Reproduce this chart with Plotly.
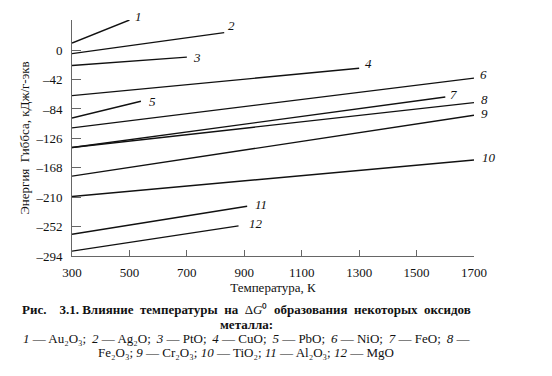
import plotly.graph_objects as go

# Data: start/end temperatures (K) and Gibbs energy (kJ/g-eq) for each oxide line
labels = ["1", "2", "3", "4", "5", "6", "7", "8", "9", "10", "11", "12"]
oxides = ["Au₂O₃", "Ag₂O", "PtO", "CuO", "PbO", "NiO", "FeO", "Fe₂O₃", "Cr₂O₃", "TiO₂", "Al₂O₃", "MgO"]
t_start = [300, 300, 300, 300, 300, 300, 300, 300, 300, 300, 300, 300]
t_end = [500, 830, 700, 1300, 540, 1700, 1600, 1700, 1700, 1700, 910, 880]
g_start = [10, -5, -22, -65, -97, -111, -139, -139, -180, -209, -263, -287]
g_end = [43, 25, -10, -26, -73, -40, -67, -75, -93, -157, -223, -251]

x_ticks = [300, 500, 700, 900, 1100, 1300, 1500, 1700]
y_ticks = [0, -42, -84, -126, -168, -210, -252, -294]
y_ticktext = ["0" if v == 0 else "\u2013" + str(-v) for v in y_ticks]

# label offsets (pixels) relative to line end
lab_dx = [4, 2, 4, 4, 6, 4, 3, 5, 5, 6, 6, 8]
lab_dy = [4, 7, 0, 5, 0, 4, 3, 3, 2, 3, 2, 2]

FONT = "Liberation Serif, Times New Roman, serif"

# the page body adds an 8px margin, so the figure is drawn 8px in from the window edge
OFF = 8
W, H = 552 - OFF, 376 - OFF
L, R, T, B = 72 - OFF, 78, 20 - OFF, 128 - OFF

fig = go.Figure()
for i in range(len(labels)):
    fig.add_trace(go.Scatter(
        x=[t_start[i], t_end[i]], y=[g_start[i], g_end[i]],
        mode="lines", line=dict(color="#111111", width=1.4),
        name=oxides[i], showlegend=False, hoverinfo="skip"))
    fig.add_annotation(
        x=t_end[i], y=g_end[i], text="<i>" + labels[i] + "</i>",
        showarrow=False, xanchor="left", yanchor="middle",
        xshift=lab_dx[i], yshift=lab_dy[i],
        font=dict(family=FONT, size=13, color="#111"))

axis_col = "#666666"
fig.update_xaxes(
    range=[300, 1700], tickvals=x_ticks, ticktext=[str(v) for v in x_ticks],
    ticks="inside", ticklen=6, tickcolor=axis_col, tickwidth=1,
    showline=True, linecolor=axis_col, linewidth=1, showgrid=False, zeroline=False,
    tickfont=dict(family=FONT, size=13, color="#111"), ticklabelstandoff=4,
    automargin=False,
    title=dict(text="Температура, К", font=dict(family=FONT, size=13, color="#111"), standoff=4),
)
fig.update_yaxes(
    range=[-294, 43], tickvals=y_ticks, ticktext=y_ticktext,
    ticks="inside", ticklen=9, tickcolor=axis_col, tickwidth=1,
    showline=True, linecolor=axis_col, linewidth=1, showgrid=False, zeroline=False,
    tickfont=dict(family=FONT, size=13, color="#111"), ticklabelstandoff=6,
    automargin=False,
    title=dict(text="Энергия  Гиббса, кДж/г-экв", font=dict(family=FONT, size=13, color="#111"), standoff=2),
)

S = "\u00a0"
TS = "\u2009"
legend_items = ["<i>" + labels[i] + "</i> — " + oxides[i] for i in range(len(labels))]
line3 = (";" + TS + " ").join(legend_items[:7]) + ";" + TS + " <i>8</i> —"
line4 = "Fe₂O₃; " + "; ".join(legend_items[8:])
caption = [
    ("<b>Рис." + S * 4 + "3.1." + S + "Влияние" + S * 2 + "температуры" + S * 2 + "на" + S * 2 + "</b>Δ<i>G</i>⁰"
     + S * 2 + "<b>образования" + S * 2 + "некоторых" + S * 2 + "оксидов</b>", 309),
    ("<b>металла:</b>", 324),
    (line3, 338),
    (line4, 352),
]
pw, ph = W - L - R, H - T - B
for txt, ypix in caption:
    px, py = 246 - OFF, ypix - OFF
    fig.add_annotation(
        x=(px - L) / pw, y=1 - (py - T) / ph, xref="paper", yref="paper",
        text=txt, showarrow=False, xanchor="center", yanchor="middle",
        font=dict(family=FONT, size=13, color="#111"))

fig.update_layout(
    width=W, height=H, margin=dict(l=L, r=R, t=T, b=B, autoexpand=False),
    paper_bgcolor="white", plot_bgcolor="white",
    font=dict(family=FONT, color="#111"),
)
fig.write_html("out.html")
